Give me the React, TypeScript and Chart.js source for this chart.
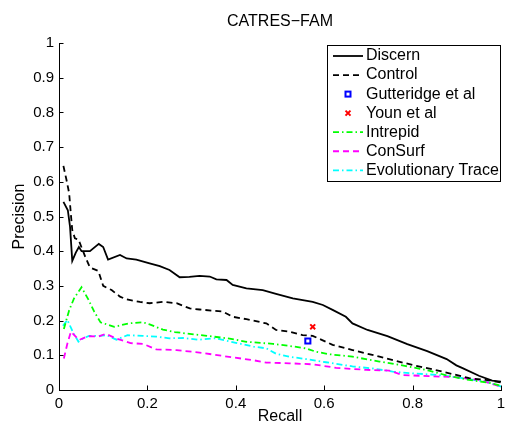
import React, { useEffect, useRef } from "react";
import { Chart, registerables } from "chart.js";

Chart.register(...registerables);

const titleText = "CATRES\u2212FAM";
const xAxisTitle = "Recall";
const yAxisTitle = "Precision";

const seriesNames = [
  "Discern",
  "Control",
  "Gutteridge et al",
  "Youn et al",
  "Intrepid",
  "ConSurf",
  "Evolutionary Trace",
];

const xTickValues = [0, 0.2, 0.4, 0.6, 0.8, 1];
const yTickValues = [0, 0.1, 0.2, 0.3, 0.4, 0.5, 0.6, 0.7, 0.8, 0.9, 1];

const discernRecall = [0.01, 0.02, 0.025, 0.03, 0.038, 0.045, 0.051, 0.07, 0.09, 0.1, 0.111, 0.138, 0.153, 0.175, 0.205, 0.228, 0.25, 0.273, 0.295, 0.318, 0.341, 0.356, 0.379, 0.393, 0.424, 0.461, 0.491, 0.529, 0.574, 0.597, 0.619, 0.649, 0.664, 0.698, 0.743, 0.788, 0.833, 0.877, 0.899, 0.913, 0.95, 0.98, 1.0];
const discernPrecision = [0.542, 0.518, 0.47, 0.372, 0.396, 0.412, 0.4, 0.4, 0.421, 0.412, 0.376, 0.389, 0.379, 0.376, 0.365, 0.357, 0.346, 0.325, 0.326, 0.329, 0.327, 0.319, 0.317, 0.303, 0.293, 0.288, 0.277, 0.264, 0.254, 0.245, 0.231, 0.211, 0.192, 0.173, 0.155, 0.132, 0.112, 0.089, 0.071, 0.063, 0.041, 0.027, 0.024];

const controlRecall = [0.01, 0.017, 0.023, 0.027, 0.03, 0.036, 0.044, 0.059, 0.07, 0.089, 0.1, 0.119, 0.138, 0.153, 0.183, 0.205, 0.235, 0.266, 0.296, 0.318, 0.371, 0.393, 0.424, 0.469, 0.491, 0.521, 0.551, 0.574, 0.604, 0.619, 0.664, 0.725, 0.8, 0.868, 0.928, 0.965, 1.0];
const controlPrecision = [0.646, 0.605, 0.567, 0.504, 0.461, 0.437, 0.434, 0.385, 0.353, 0.343, 0.3, 0.288, 0.269, 0.261, 0.254, 0.25, 0.254, 0.25, 0.235, 0.232, 0.226, 0.211, 0.204, 0.192, 0.173, 0.168, 0.158, 0.156, 0.139, 0.13, 0.115, 0.096, 0.072, 0.053, 0.034, 0.029, 0.022];

const gutteridgeRecall = [0.563];
const gutteridgePrecision = [0.141];

const younRecall = [0.574];
const younPrecision = [0.182];

const intrepidRecall = [0.011, 0.023, 0.034, 0.051, 0.066, 0.08, 0.094, 0.125, 0.158, 0.19, 0.205, 0.235, 0.262, 0.3, 0.33, 0.386, 0.424, 0.484, 0.521, 0.559, 0.582, 0.612, 0.664, 0.725, 0.785, 0.837, 0.883, 0.928, 0.973, 1.0];
const intrepidPrecision = [0.176, 0.23, 0.264, 0.296, 0.262, 0.225, 0.195, 0.182, 0.192, 0.195, 0.189, 0.174, 0.167, 0.161, 0.157, 0.148, 0.139, 0.133, 0.127, 0.12, 0.11, 0.103, 0.096, 0.082, 0.069, 0.056, 0.04, 0.029, 0.021, 0.012];

const consurfRecall = [0.011, 0.019, 0.027, 0.045, 0.066, 0.089, 0.106, 0.128, 0.162, 0.19, 0.22, 0.266, 0.318, 0.371, 0.439, 0.469, 0.521, 0.574, 0.627, 0.695, 0.747, 0.777, 0.837, 0.898, 0.95, 1.0];
const consurfPrecision = [0.091, 0.134, 0.168, 0.144, 0.155, 0.154, 0.162, 0.149, 0.135, 0.133, 0.117, 0.115, 0.108, 0.098, 0.086, 0.079, 0.077, 0.074, 0.064, 0.058, 0.056, 0.043, 0.04, 0.037, 0.029, 0.01];

const traceRecall = [0.009, 0.019, 0.031, 0.044, 0.055, 0.068, 0.089, 0.108, 0.13, 0.155, 0.19, 0.22, 0.25, 0.281, 0.315, 0.355, 0.4, 0.44, 0.469, 0.492, 0.521, 0.559, 0.604, 0.664, 0.71, 0.755, 0.8, 0.86, 0.913, 0.965, 1.0];
const tracePrecision = [0.185, 0.202, 0.168, 0.139, 0.149, 0.156, 0.156, 0.158, 0.145, 0.158, 0.156, 0.154, 0.149, 0.15, 0.145, 0.149, 0.136, 0.125, 0.12, 0.104, 0.096, 0.089, 0.08, 0.068, 0.062, 0.053, 0.048, 0.043, 0.034, 0.024, 0.01];

const FAMILY = '"Liberation Sans", Arial, Helvetica, sans-serif';
const FONT = "16px " + FAMILY;

const toPoints = (xs: number[], ys: number[]) => xs.map((x, i) => ({ x, y: ys[i] }));

const decorPlugin = {
  id: "decor",
  afterDraw(chart: any) {
    const { ctx, chartArea: a, scales } = chart;
    const xs = scales.x;
    const ys = scales.y;
    ctx.save();
    // inward ticks
    ctx.strokeStyle = "#000";
    ctx.lineWidth = 1;
    ctx.setLineDash([]);
    ctx.beginPath();
    for (const v of yTickValues) {
      const py = Math.round(ys.getPixelForValue(v)) + 0.5;
      ctx.moveTo(a.left, py);
      ctx.lineTo(a.left + 4.5, py);
    }
    for (const v of xTickValues) {
      const px = Math.round(xs.getPixelForValue(v)) + 0.5;
      ctx.moveTo(px, a.bottom);
      ctx.lineTo(px, a.bottom - 4.5);
    }
    ctx.stroke();

    // titles
    ctx.fillStyle = "#000";
    ctx.font = FONT;
    ctx.textAlign = "center";
    ctx.textBaseline = "middle";
    const cx = (a.left + a.right) / 2;
    ctx.fillText(titleText, cx, 22);
    ctx.fillText(xAxisTitle, cx, 417);
    ctx.save();
    ctx.translate(20, (a.top + a.bottom) / 2);
    ctx.rotate(-Math.PI / 2);
    ctx.fillText(yAxisTitle, 0, 0);
    ctx.restore();

    // legend
    const bx = 327.5, by = 45.5, bw = 173, bh = 136;
    ctx.fillStyle = "#fff";
    ctx.fillRect(bx, by, bw, bh);
    ctx.strokeStyle = "#000";
    ctx.lineWidth = 1;
    ctx.strokeRect(bx, by, bw, bh);
    chart.data.datasets.forEach((ds: any, i: number) => {
      const cy = 56 + i * 19.05;
      if (ds.showLine === false) {
        ctx.save();
        ctx.setLineDash([]);
        ctx.strokeStyle = ds.pointBorderColor;
        ctx.lineWidth = 2;
        const mx = 348;
        if (ds.pointStyle === "rect") {
          ctx.strokeRect(mx - 2.5, cy - 2.5, 5, 5);
        } else {
          ctx.beginPath();
          ctx.moveTo(mx - 2.5, cy - 2.5);
          ctx.lineTo(mx + 2.5, cy + 2.5);
          ctx.moveTo(mx + 2.5, cy - 2.5);
          ctx.lineTo(mx - 2.5, cy + 2.5);
          ctx.stroke();
        }
        ctx.restore();
      } else {
        ctx.save();
        ctx.strokeStyle = ds.borderColor;
        ctx.lineWidth = ds.borderWidth;
        ctx.setLineDash(ds.borderDash || []);
        ctx.beginPath();
        ctx.moveTo(333, cy);
        ctx.lineTo(363, cy);
        ctx.stroke();
        ctx.restore();
      }
      ctx.fillStyle = "#000";
      ctx.font = FONT;
      ctx.textAlign = "left";
      ctx.textBaseline = "middle";
      ctx.fillText(ds.label, 366, cy);
    });
    ctx.restore();
  },
};

export default function App() {
  const canvasRef = useRef<HTMLCanvasElement | null>(null);

  useEffect(() => {
    if (!canvasRef.current) return;
    const lineBase = { pointRadius: 0, borderWidth: 1.8, tension: 0, fill: false };
    const chart = new Chart(canvasRef.current, {
      type: "line",
      data: {
        datasets: [
          { ...lineBase, label: seriesNames[0], data: toPoints(discernRecall, discernPrecision), borderColor: "#000000", borderDash: [] },
          { ...lineBase, label: seriesNames[1], data: toPoints(controlRecall, controlPrecision), borderColor: "#000000", borderDash: [6, 4] },
          {
            label: seriesNames[2], data: toPoints(gutteridgeRecall, gutteridgePrecision), showLine: false,
            pointStyle: "rect", pointRadius: 3.6, pointBorderColor: "#0000ff", pointBackgroundColor: "rgba(0,0,0,0)",
            pointBorderWidth: 2, borderColor: "#0000ff", order: -1,
          },
          {
            label: seriesNames[3], data: toPoints(younRecall, younPrecision), showLine: false,
            pointStyle: "crossRot", pointRadius: 3.5, pointBorderColor: "#ff0000", pointBackgroundColor: "#ff0000",
            pointBorderWidth: 2, borderColor: "#ff0000", order: -1,
          },
          { ...lineBase, label: seriesNames[4], data: toPoints(intrepidRecall, intrepidPrecision), borderColor: "#00ff00", borderDash: [6, 3, 1.5, 3] },
          { ...lineBase, label: seriesNames[5], data: toPoints(consurfRecall, consurfPrecision), borderColor: "#ff00ff", borderDash: [6, 4] },
          { ...lineBase, label: seriesNames[6], data: toPoints(traceRecall, tracePrecision), borderColor: "#00ffff", borderDash: [6, 3, 1.5, 3] },
        ] as any,
      },
      options: {
        animation: false,
        responsive: false,
        maintainAspectRatio: false,
        layout: { padding: { left: 0, top: 43, right: 5, bottom: 0 } },
        plugins: { legend: { display: false }, title: { display: false }, tooltip: { enabled: false } },
        events: [],
        scales: {
          x: {
            type: "linear",
            min: 0,
            max: 1,
            grid: { display: false, drawTicks: false },
            border: { display: true, color: "#000", width: 1 },
            ticks: {
              stepSize: 0.2,
              padding: 5,
              color: "#000",
              font: { family: FAMILY, size: 15 },
              maxRotation: 0,
              autoSkip: false,
              callback: (v: any) => String(Math.round(Number(v) * 10) / 10),
            },
            afterFit: (s: any) => { s.height = 35; s.paddingLeft = 0; s.paddingRight = 0; },
          },
          y: {
            type: "linear",
            min: 0,
            max: 1,
            grid: { display: false, drawTicks: false },
            border: { display: true, color: "#000", width: 1 },
            ticks: {
              stepSize: 0.1,
              padding: 5,
              color: "#000",
              font: { family: FAMILY, size: 15 },
              autoSkip: false,
              callback: (v: any) => String(Math.round(Number(v) * 10) / 10),
            },
            afterFit: (s: any) => { s.width = 59; s.paddingTop = 0; s.paddingBottom = 0; },
          },
        },
      },
      plugins: [decorPlugin],
    } as any);
    return () => chart.destroy();
  }, []);

  return (
    <div style={{ position: "absolute", left: 0, top: 0, width: 507, height: 425, background: "#fff" }}>
      <canvas ref={canvasRef} width={507} height={425} style={{ display: "block" }} />
    </div>
  );
}
